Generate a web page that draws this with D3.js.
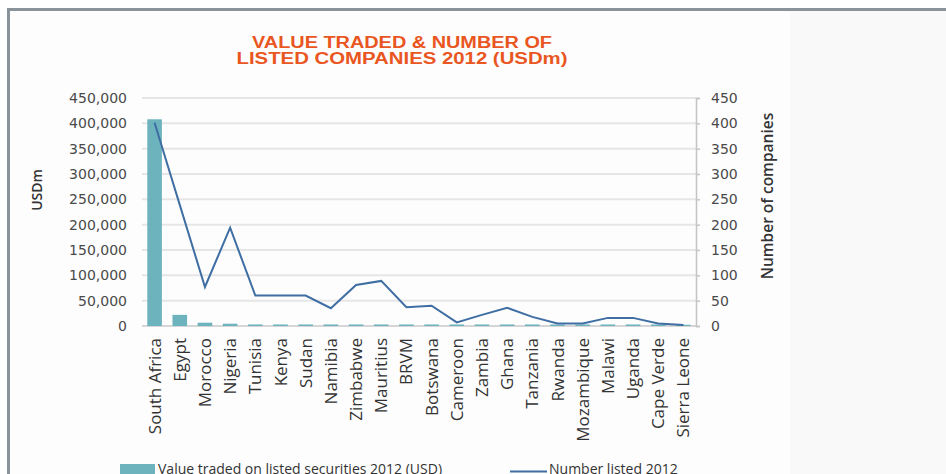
<!DOCTYPE html>
<meta charset="utf-8">
<script src="https://d3js.org/d3.v7.min.js"></script>
<style>
  body { margin: 0; background: #ffffff; }
  text { font-family: "Open Sans", sans-serif; }
</style>
<div id="chart"></div>
<script>
  // data
  const countries = ["South Africa", "Egypt", "Morocco", "Nigeria", "Tunisia", "Kenya", "Sudan",
    "Namibia", "Zimbabwe", "Mauritius", "BRVM", "Botswana", "Cameroon", "Zambia", "Ghana",
    "Tanzania", "Rwanda", "Mozambique", "Malawi", "Uganda", "Cape Verde", "Sierra Leone"];
  const valueTraded = [408000, 22000, 6500, 4500, 3000, 3000, 3000, 3000, 3000, 3000, 3000, 3000,
    3000, 3000, 3000, 3000, 3000, 3000, 3000, 3000, 3000, 2500];
  const numberListed = [401, 239, 77, 194, 60, 60, 60, 35, 81, 89, 37, 40, 7, 22, 36, 18, 5, 5,
    16, 16, 5, 2];
  const leftTicks = [0, 50000, 100000, 150000, 200000, 250000, 300000, 350000, 400000, 450000];
  const rightTicks = [0, 50, 100, 150, 200, 250, 300, 350, 400, 450];

  const width = 946, height = 474;
  const plot = { left: 142, right: 696, top: 98, bottom: 326 };

  const svg = d3.select("#chart")
    .append("svg")
    .attr("width", width)
    .attr("height", height);

  // page frame
  svg.append("rect").attr("x", 0).attr("y", 0).attr("width", width).attr("height", height).attr("fill", "#ffffff");
  svg.append("rect").attr("x", 8).attr("y", 9).attr("width", width - 8).attr("height", height - 9).attr("fill", "#fdfdfd");
  svg.append("rect").attr("x", 790).attr("y", 10).attr("width", width - 790).attr("height", height - 10).attr("fill", "#f9f9f9");
  svg.append("line").attr("x1", 7).attr("x2", width).attr("y1", 9.5).attr("y2", 9.5)
    .attr("stroke", "#8a9399").attr("stroke-width", 3);
  svg.append("line").attr("x1", 8.5).attr("x2", 8.5).attr("y1", 8).attr("y2", height)
    .attr("stroke", "#8a9399").attr("stroke-width", 3);

  // title
  const title = svg.append("g")
    .attr("font-weight", "bold")
    .attr("fill", "#e9561f")
    .attr("text-anchor", "middle");
  title.append("text").attr("x", 402).attr("y", 48).attr("font-size", 16)
    .attr("textLength", 300).attr("lengthAdjust", "spacingAndGlyphs")
    .style("font-family", "'Liberation Sans', Arial, sans-serif")
    .text("VALUE TRADED & NUMBER OF");
  title.append("text").attr("x", 402).attr("y", 63.5).attr("font-size", 16)
    .attr("textLength", 331).attr("lengthAdjust", "spacingAndGlyphs")
    .style("font-family", "'Liberation Sans', Arial, sans-serif")
    .text("LISTED COMPANIES 2012 (USDm)");

  // scales
  const x = d3.scaleBand()
    .domain(countries)
    .range([plot.left, plot.right])
    .paddingInner(0.42)
    .paddingOuter(0.21);
  const yLeft = d3.scaleLinear().domain([0, 450000]).range([plot.bottom, plot.top]);
  const yRight = d3.scaleLinear().domain([0, 450]).range([plot.bottom, plot.top]);

  // gridlines
  svg.append("g")
    .selectAll("line")
    .data(leftTicks.filter(d => d > 0))
    .join("line")
    .attr("x1", plot.left)
    .attr("x2", plot.right)
    .attr("y1", d => yLeft(d))
    .attr("y2", d => yLeft(d))
    .attr("stroke", "#e6e6e6")
    .attr("stroke-width", 2);

  // zero line
  svg.append("line")
    .attr("x1", plot.left).attr("x2", plot.right)
    .attr("y1", yLeft(0)).attr("y2", yLeft(0))
    .attr("stroke", "#c8c8c8").attr("stroke-width", 1.5);

  // left axis labels
  const leftAxis = svg.append("g")
    .attr("transform", `translate(${plot.left - 15},0)`)
    .call(d3.axisLeft(yLeft).tickValues(leftTicks).tickFormat(d3.format(",")).tickSize(0).tickPadding(0));
  leftAxis.select(".domain").remove();
  leftAxis.selectAll("text")
    .attr("font-size", 14)
    .attr("fill", "#4a4a4a")
    .style("font-family", "'DejaVu Sans', sans-serif");

  // right axis
  const rightAxis = svg.append("g")
    .attr("transform", `translate(${plot.right},0)`)
    .call(d3.axisRight(yRight).tickValues(rightTicks).tickSize(4).tickPadding(11).tickSizeOuter(4));
  rightAxis.select(".domain").attr("stroke", "#c4c4c4").attr("stroke-width", 1.5);
  rightAxis.selectAll(".tick line").attr("stroke", "#c4c4c4").attr("stroke-width", 1.5);
  rightAxis.selectAll("text")
    .attr("font-size", 14)
    .attr("fill", "#4a4a4a")
    .style("font-family", "'DejaVu Sans', sans-serif");

  // bars
  svg.append("g")
    .selectAll("rect")
    .data(countries)
    .join("rect")
    .attr("x", d => x(d))
    .attr("width", x.bandwidth())
    .attr("y", (d, i) => yLeft(valueTraded[i]))
    .attr("height", (d, i) => yLeft(0) - yLeft(valueTraded[i]))
    .attr("fill", "#6db3be");

  // number listed line
  const line = d3.line()
    .x(d => x(d[0]) + x.bandwidth() / 2)
    .y(d => yRight(d[1]));
  svg.append("path")
    .datum(d3.zip(countries, numberListed))
    .attr("d", line)
    .attr("fill", "none")
    .attr("stroke", "#3f6ea3")
    .attr("stroke-width", 2);

  // category labels
  svg.append("g")
    .selectAll("text")
    .data(countries)
    .join("text")
    .attr("transform", d => `translate(${x(d) + x.bandwidth() / 2 + 6},${plot.bottom + 12}) rotate(-90)`)
    .attr("text-anchor", "end")
    .attr("font-size", 17)
    .attr("fill", "#333")
    .text(d => d);

  // axis titles
  svg.append("text")
    .attr("transform", `translate(42,190) rotate(-90)`)
    .attr("text-anchor", "middle")
    .attr("font-size", 14)
    .attr("font-weight", 600)
    .attr("fill", "#333")
    .text("USDm");
  svg.append("text")
    .attr("transform", `translate(773,196) rotate(-90)`)
    .attr("text-anchor", "middle")
    .attr("font-size", 15.5)
    .attr("font-weight", 600)
    .attr("fill", "#333")
    .text("Number of companies");

  // legend (cut by the bottom edge, as in the source)
  const legend = svg.append("g");
  legend.append("rect").attr("x", 120).attr("y", 464).attr("width", 35).attr("height", 12).attr("fill", "#6db3be");
  legend.append("text").attr("x", 158).attr("y", 474).attr("font-size", 14).attr("fill", "#333")
    .text("Value traded on listed securities 2012 (USD)");
  legend.append("line").attr("x1", 510).attr("x2", 547).attr("y1", 471.5).attr("y2", 471.5)
    .attr("stroke", "#3f6ea3").attr("stroke-width", 2);
  legend.append("text").attr("x", 549).attr("y", 474).attr("font-size", 14).attr("fill", "#333")
    .text("Number listed 2012");
</script>
